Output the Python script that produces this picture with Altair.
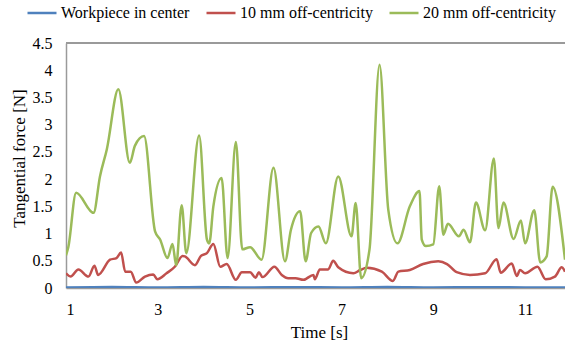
import altair as alt
import pandas as pd

# ---- data ----
series_names = ["Workpiece in center", "10 mm off-centricity", "20 mm off-centricity"]
series_colors = ["#4F81BD", "#C0504D", "#9BBB59"]

blue_t = [1.0, 2.0, 3.0, 4.0, 5.0, 6.0, 7.0, 8.0, 9.0, 10.0, 11.0, 11.87]
blue_v = [0.01, 0.02, 0.01, 0.02, 0.01, 0.015, 0.01, 0.02, 0.01, 0.015, 0.01, 0.01]

red_t = [1.0, 1.1, 1.27, 1.49, 1.62, 1.70, 1.96, 2.10, 2.20, 2.29, 2.41, 2.53, 2.72, 2.90,
         2.99, 3.19, 3.37, 3.54, 3.59, 3.81, 3.94, 4.07, 4.21, 4.36, 4.50, 4.70, 4.83, 5.01,
         5.13, 5.20, 5.28, 5.54, 5.70, 5.84, 6.0, 6.17, 6.39, 6.42, 6.53, 6.71, 6.82, 6.93,
         7.26, 7.41, 7.55, 7.88, 8.12, 8.24, 8.49, 8.78, 9.11, 9.30, 9.51, 9.80, 10.13, 10.38,
         10.47, 10.71, 10.82, 10.89, 11.0, 11.27, 11.45, 11.65, 11.80, 11.87]
red_v = [0.27, 0.21, 0.34, 0.21, 0.41, 0.24, 0.52, 0.55, 0.65, 0.30, 0.30, 0.10, 0.21, 0.25,
         0.16, 0.27, 0.39, 0.59, 0.58, 0.42, 0.59, 0.64, 0.81, 0.39, 0.44, 0.15, 0.29, 0.29,
         0.19, 0.29, 0.20, 0.39, 0.24, 0.18, 0.18, 0.15, 0.24, 0.16, 0.34, 0.34, 0.50, 0.38,
         0.27, 0.33, 0.37, 0.30, 0.13, 0.30, 0.33, 0.44, 0.49, 0.44, 0.29, 0.24, 0.27, 0.53,
         0.28, 0.45, 0.22, 0.33, 0.27, 0.39, 0.16, 0.21, 0.38, 0.30]

green_t = [1.0, 1.05, 1.22, 1.6, 1.74, 1.89, 2.14, 2.39, 2.5, 2.7, 2.94, 3.05, 3.21, 3.32,
           3.40, 3.52, 3.62, 3.90, 4.07, 4.12, 4.21, 4.39, 4.52, 4.70, 4.84, 5.01, 5.26, 5.52,
           5.77, 5.90, 6.10, 6.22, 6.34, 6.50, 6.66, 6.93, 7.22, 7.31, 7.43, 7.61, 7.83, 8.02,
           8.22, 8.49, 8.70, 8.75, 8.84, 9.0, 9.13, 9.22, 9.32, 9.56, 9.66, 9.80, 9.93, 10.13,
           10.32, 10.42, 10.53, 10.75, 10.91, 11.00, 11.20, 11.33, 11.47, 11.60, 11.87]
green_v = [0.6, 0.75, 1.75, 1.38, 2.05, 2.55, 3.65, 2.30, 2.61, 2.79, 1.04, 0.89, 0.55, 0.81,
           0.42, 1.52, 0.64, 2.80, 0.89, 0.82, 1.5, 2.02, 0.55, 2.68, 0.71, 0.75, 0.52, 2.21,
           0.49, 1.07, 1.41, 0.49, 1.01, 1.13, 0.82, 2.05, 0.95, 1.56, 0.18, 0.70, 4.10, 1.44,
           0.82, 1.50, 1.78, 0.89, 0.77, 0.80, 1.87, 0.98, 1.18, 0.95, 1.07, 0.84, 1.57, 1.06,
           2.38, 1.10, 1.57, 0.90, 1.24, 0.82, 1.43, 0.47, 0.58, 1.86, 0.52]

x_ticks = [1, 3, 5, 7, 9, 11]
y_ticks = [0, 0.5, 1, 1.5, 2, 2.5, 3, 3.5, 4, 4.5]

rows = []
for name, ts, vs in zip(series_names, [blue_t, red_t, green_t], [blue_v, red_v, green_v]):
    for i, (t, v) in enumerate(zip(ts, vs)):
        rows.append({"series": name, "time": t, "force": v, "idx": i})
df = pd.DataFrame(rows)

FONT = "Liberation Serif"
FRAME = "#9a9a9a"

lines = alt.Chart(df).mark_line(interpolate="monotone", strokeWidth=2.5, clip=True).encode(
    x=alt.X("time:Q",
            scale=alt.Scale(domain=[1, 11.87], nice=False, zero=False),
            axis=alt.Axis(values=x_ticks, format="d", ticks=False, grid=False,
                          labelPadding=13, labelFontSize=16, labelFont=FONT, labelColor="black",
                          domainColor=FRAME, domainWidth=1.5,
                          title="Time [s]", titleFont=FONT, titleFontSize=17,
                          titleFontWeight="normal", titleColor="black",
                          titleX=253, titleY=44, titleBaseline="middle")),
    y=alt.Y("force:Q",
            scale=alt.Scale(domain=[0, 4.5], nice=False),
            axis=alt.Axis(values=y_ticks, format=".1~f", ticks=False, grid=False,
                          labelPadding=14, labelFontSize=16, labelFont=FONT, labelColor="black",
                          domainColor=FRAME, domainWidth=1.5,
                          title="Tangential force [N]", titleFont=FONT, titleFontSize=17,
                          titleFontWeight="normal", titleColor="black",
                          titleX=-47, titleY=115, titleBaseline="middle", titleAngle=-90)),
    color=alt.Color("series:N",
                    scale=alt.Scale(domain=series_names, range=series_colors),
                    sort=series_names,
                    legend=alt.Legend(title=None, orient="none", legendX=-40, legendY=-46,
                                      direction="horizontal", symbolType="stroke",
                                      symbolSize=841, symbolStrokeWidth=2.5,
                                      labelFont=FONT, labelFontSize=16, labelColor="black",
                                      labelOffset=3, columnPadding=11, padding=0)),
    order=alt.Order("idx:Q"),
)

# top frame line of the plot area (style only)
top_border = alt.Chart(df).mark_rule(color=FRAME, strokeWidth=1.5).encode(
    y=alt.value(0)
)

chart = alt.layer(lines, top_border).properties(
    width=499, height=245,
    autosize=alt.AutoSizeParams(type="none"),
    padding={"left": 66, "top": 43, "right": 0, "bottom": 60},
).configure(
    background="white", font=FONT
).configure_view(
    stroke=None
).configure_axis(
    labelFont=FONT, titleFont=FONT
).configure_legend(
    labelFont=FONT
)

chart.save("out.html", embed_options={"renderer": "svg", "actions": False})
